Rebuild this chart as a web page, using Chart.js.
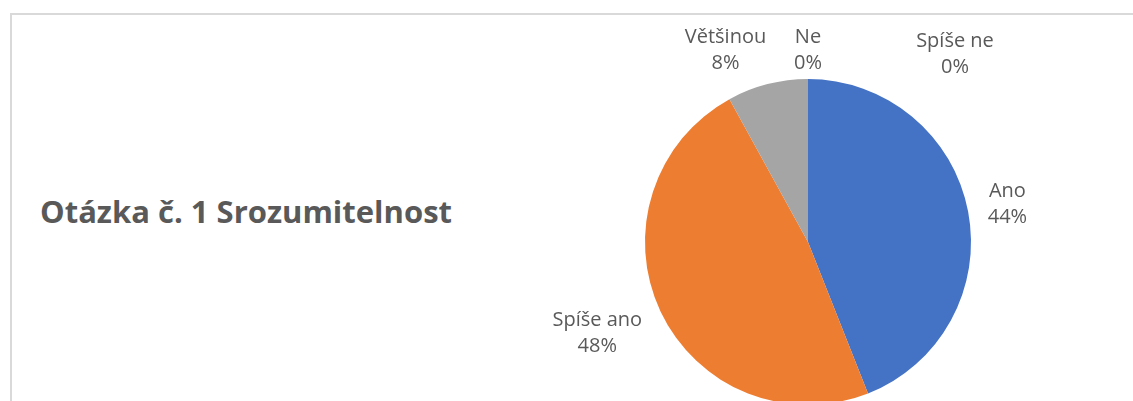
<!DOCTYPE html>
<html lang="cs">
<head>
<meta charset="utf-8">
<script src="https://cdn.jsdelivr.net/npm/chart.js@4.4.1/dist/chart.umd.min.js"></script>
<style>
  html, body { margin: 0; padding: 0; background: #fff; overflow: hidden; }
  #wrap { position: relative; width: 1133px; height: 401px; overflow: hidden; }
  #ramec { position: absolute; left: 10px; top: 13px; width: 1200px; height: 500px;
           border: 2px solid #d9d9d9; box-sizing: border-box; }
  #nadpis { position: absolute; left: 40px; top: 190px; font-family: "Open Sans", sans-serif;
            font-weight: bold; font-size: 31px; color: #595959; white-space: nowrap; }
  #platno { position: absolute; left: 0; top: 0; width: 1133px; height: 500px; }
</style>
</head>
<body>
<div id="wrap">
  <div id="ramec"></div>
  <div id="nadpis">Otázka č. 1 Srozumitelnost</div>
  <div id="platno"><canvas id="graf" width="1133" height="500"></canvas></div>
</div>
<script>
  const kategorie = ["Ano", "Spíše ano", "Většinou", "Ne", "Spíše ne"];
  const pocty = [11, 12, 2, 0, 0];
  const barvy = ["#4472C4", "#ED7D31", "#A5A5A5", "#FFC000", "#5B9BD5"];
  // posun popisku oproti výchozí poloze (radius + 40)
  const posunX = [0, -27, -32, 0, 147];
  const posunY = [0, 5, 5, 11, 15];

  const popisky = {
    id: "popisky",
    afterDatasetsDraw(chart) {
      const ctx = chart.ctx;
      const meta = chart.getDatasetMeta(0);
      const celkem = pocty.reduce((a, b) => a + b, 0);
      ctx.save();
      ctx.fillStyle = "#595959";
      ctx.font = "20px 'Open Sans', sans-serif";
      ctx.textAlign = "center";
      ctx.textBaseline = "middle";
      meta.data.forEach((arc, i) => {
        const p = arc.getProps(["x", "y", "startAngle", "endAngle", "outerRadius"], true);
        const uhel = (p.startAngle + p.endAngle) / 2;
        const r = p.outerRadius + 40;
        const x = p.x + Math.cos(uhel) * r + posunX[i];
        const y = p.y + Math.sin(uhel) * r + posunY[i];
        const pct = Math.round(pocty[i] / celkem * 100) + "%";
        ctx.fillText(kategorie[i], x, y - 13);
        ctx.fillText(pct, x, y + 13);
      });
      ctx.restore();
    }
  };

  new Chart(document.getElementById("graf"), {
    type: "pie",
    data: {
      labels: kategorie,
      datasets: [{ data: pocty, backgroundColor: barvy, borderWidth: 0 }]
    },
    options: {
      responsive: false,
      animation: false,
      layout: { padding: { left: 645, right: 162, top: 79, bottom: 95 } },
      plugins: { legend: { display: false }, tooltip: { enabled: false } }
    },
    plugins: [popisky]
  });
</script>
</body>
</html>
